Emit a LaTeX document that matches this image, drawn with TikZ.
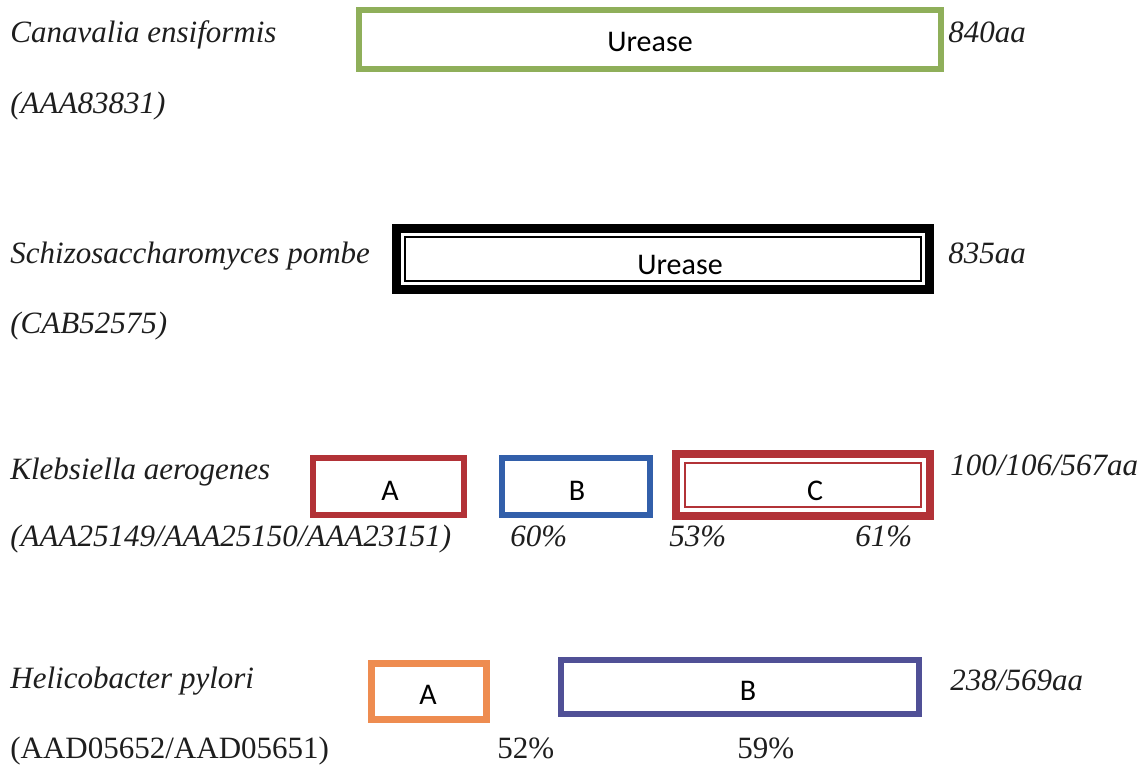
\documentclass[tikz,border=0pt]{standalone}
\usepackage{fontspec}
\setmainfont{Liberation Serif}
\newfontfamily\boxfont{Carlito}
\definecolor{txt}{RGB}{30,30,30}
\definecolor{cgreen}{RGB}{143,175,90}
\definecolor{cred}{RGB}{178,50,55}
\definecolor{cblue}{RGB}{50,95,170}
\definecolor{corange}{RGB}{238,140,80}
\definecolor{cpurple}{RGB}{80,80,150}
\begin{document}
\begin{tikzpicture}[x=0.5pt,y=-0.5pt,
  lbl/.style={anchor=base west,inner sep=0pt,text=txt,font=\fontsize{15.5}{18}\selectfont\itshape},
  lblu/.style={anchor=base west,inner sep=0pt,text=txt,font=\fontsize{15.5}{18}\selectfont\upshape},
  box/.style={draw,rectangle,inner sep=0pt},
  btxt/.style={inner sep=0pt,text=black,font=\boxfont\fontsize{15}{18}\selectfont}]
\fill[white] (0,0) rectangle (1144,765);
\useasboundingbox (0,0) rectangle (1144,765);

% Row 1
\node[lbl] (n1) at (10,43) {Canavalia ensiformis};
\node[lbl] (a1) at (10,113) {(AAA83831)};
\node[box,draw=cgreen,line width=3pt,minimum width=291pt,minimum height=29.5pt] (g) at (650,39.5) {};
\node[btxt] (gt) at (650,42) {Urease};
\node[lbl] (s1) at (948,43) {840aa};

% Row 2
\node[lbl] (n2) at (10,263) {Schizosaccharomyces pombe};
\node[lbl] (a2) at (10,333) {(CAB52575)};
\node[box,draw=black,line width=4.5pt,minimum width=266.5pt,minimum height=30.5pt] (s) at (663,259) {};
\node[box,draw=black,line width=1pt,minimum width=257.9pt,minimum height=21.9pt] (sin) at (663,259) {};
\node[btxt] (st) at (680,265) {Urease};
\node[lbl] (s2) at (948,263) {835aa};

% Row 3
\node[lbl] (n3) at (10,479) {Klebsiella aerogenes};
\node[lbl] (a3) at (10,546) {(AAA25149/AAA25150/AAA23151)};
\node[box,draw=cred,line width=3.25pt,minimum width=75.5pt,minimum height=28.5pt] (ka) at (388.5,486.5) {};
\node[btxt] (kat) at (390,491) {A};
\node[box,draw=cblue,line width=3.25pt,minimum width=74pt,minimum height=28.5pt] (kb) at (576,486.5) {};
\node[btxt] (kbt) at (577,491) {B};
\node[box,draw=cred,line width=4pt,minimum width=127pt,minimum height=31pt] (kc) at (803,485) {};
\node[box,draw=cred,line width=1.2pt,minimum width=117.8pt,minimum height=21.8pt] (kcin) at (803,485) {};
\node[btxt] (kct) at (815,491) {C};
\node[lbl] (s3) at (950,475) {100/106/567aa};
\node[lbl] (p1) at (510,546) {60\%};
\node[lbl] (p2) at (669,546) {53\%};
\node[lbl] (p3) at (855,546) {61\%};

% Row 4
\node[lbl] (n4) at (10,688) {Helicobacter pylori};
\node[lblu] (a4) at (10,758) {(AAD05652/AAD05651)};
\node[box,draw=corange,line width=3.5pt,minimum width=57.5pt,minimum height=28pt] (ha) at (429,691.5) {};
\node[btxt] (hat) at (428,695) {A};
\node[box,draw=cpurple,line width=3pt,minimum width=179pt,minimum height=27pt] (hb) at (740,687) {};
\node[btxt] (hbt) at (748,691) {B};
\node[lbl] (s4) at (950,690) {238/569aa};
\node[lblu] (p4) at (497,758) {52\%};
\node[lblu] (p5) at (737,758) {59\%};
\end{tikzpicture}
\end{document}
